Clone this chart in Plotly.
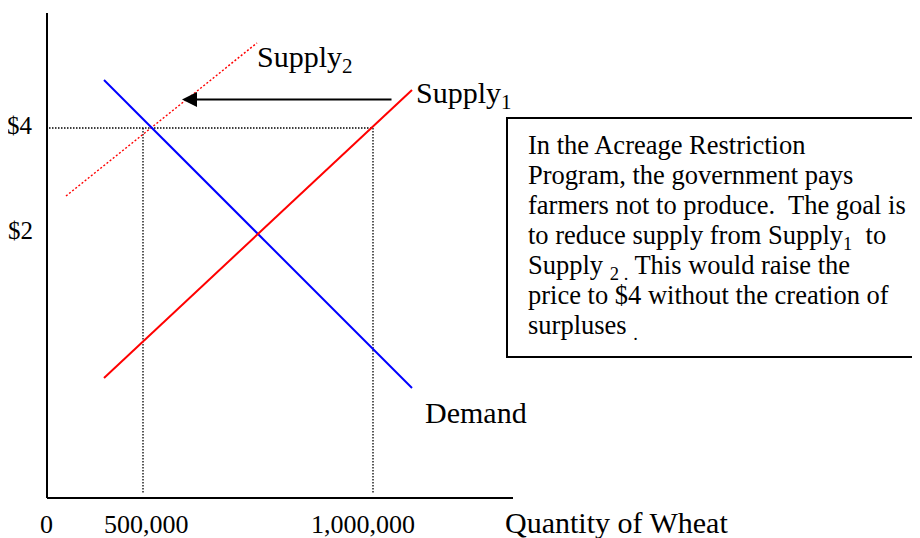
import plotly.graph_objects as go

# Schematic units (origin at the axes corner)
demand_q = [57, 365]
demand_p = [418, 110]
supply1_q = [57, 365]
supply1_p = [120, 408]
supply2_q = [19, 210]
supply2_p = [302, 455]

price_levels = [370, 267]
price_labels = ["$4", "$2"]
qty_levels = [96, 326]
qty_labels = ["500,000", "1,000,000"]

x_axis_end = 466
y_axis_end = 485

box_lines = [
    "In the Acreage Restriction",
    "Program, the government pays",
    "farmers not to produce.&nbsp; The goal is",
    "to reduce supply from Supply<sub>1</sub>&nbsp; to",
    "Supply <sub>2 .</sub> This would raise the",
    "price to $4 without the creation of",
    "surpluses <sub>.</sub>",
]

FONT = "Liberation Serif, Times New Roman, serif"
ASC = 0.891


def top_y(baseline, fs):
    return baseline + ASC * fs + 2


fig = go.Figure()

# axes
fig.add_trace(go.Scatter(x=[0, 0], y=[0, y_axis_end], mode="lines",
                         line=dict(color="black", width=2), hoverinfo="skip"))
fig.add_trace(go.Scatter(x=[0, x_axis_end], y=[0, 0], mode="lines",
                         line=dict(color="black", width=2), hoverinfo="skip"))

# reference dotted lines
fig.add_trace(go.Scatter(x=[2, qty_levels[1]], y=[price_levels[0], price_levels[0]],
                         mode="lines", line=dict(color="black", width=1.3, dash="1.5px,1.5px"),
                         hoverinfo="skip"))
for q in qty_levels:
    fig.add_trace(go.Scatter(x=[q, q], y=[price_levels[0], 5], mode="lines",
                             line=dict(color="black", width=1.3, dash="1.5px,1.5px"),
                             hoverinfo="skip"))

# curves
fig.add_trace(go.Scatter(x=supply2_q, y=supply2_p, mode="lines",
                         line=dict(color="red", width=1.5, dash="2px,2px"), hoverinfo="skip"))
fig.add_trace(go.Scatter(x=demand_q, y=demand_p, mode="lines",
                         line=dict(color="blue", width=2), hoverinfo="skip"))
fig.add_trace(go.Scatter(x=supply1_q, y=supply1_p, mode="lines",
                         line=dict(color="red", width=2), hoverinfo="skip"))

ann = []
# shift arrow
ann.append(dict(x=135, y=398.5, ax=346, ay=398.5, xref="x", yref="y", axref="x", ayref="y",
                text="", showarrow=True, arrowhead=2, arrowsize=1.5, arrowwidth=2,
                arrowcolor="black", standoff=0))

big = 30
ann.append(dict(x=210 - 2, y=top_y(431, big), text="Supply<sub>2</sub>", xanchor="left", yanchor="top"))
ann.append(dict(x=369 - 2, y=top_y(395, big), text="Supply<sub>1</sub>", xanchor="left", yanchor="top"))
ann.append(dict(x=378 - 2, y=top_y(75, big), text="Demand", xanchor="left", yanchor="top"))
ann.append(dict(x=458 - 2, y=top_y(-35, big), text="Quantity of Wheat", xanchor="left", yanchor="top"))
for a in ann[1:]:
    a.update(xref="x", yref="y", showarrow=False, font=dict(family=FONT, size=big, color="black"))

tick = 26
ann.append(dict(x=-1, y=top_y(-35, tick), text="0", xanchor="center", yanchor="top",
                xref="x", yref="y", showarrow=False, font=dict(family=FONT, size=tick, color="black")))
for q, lab, dx in zip(qty_levels, qty_labels, [3.5, -10]):
    ann.append(dict(x=q + dx, y=top_y(-35, tick), text=lab, xanchor="center", yanchor="top",
                    xref="x", yref="y", showarrow=False, font=dict(family=FONT, size=tick, color="black")))
for p, lab, dy in zip(price_levels, price_labels, [-6, -8]):
    ann.append(dict(x=-14 + 2, y=top_y(p + dy, 25), text=lab, xanchor="right", yanchor="top",
                    xref="x", yref="y", showarrow=False, font=dict(family=FONT, size=25, color="black")))

box_fs = 26.5
for i, line in enumerate(box_lines):
    ann.append(dict(x=481 - 2, y=top_y(344 - 30 * i, box_fs), text=line, xanchor="left", yanchor="top",
                    xref="x", yref="y", showarrow=False, font=dict(family=FONT, size=box_fs, color="black")))

# the page body has an 8px margin, so the ranges are offset to keep the
# axes corner at the reference position
fig.update_layout(
    width=920, height=538,
    margin=dict(l=0, r=0, t=0, b=0),
    paper_bgcolor="white", plot_bgcolor="white",
    showlegend=False,
    xaxis=dict(range=[-39, 881], visible=False, fixedrange=True),
    yaxis=dict(range=[-48, 490], visible=False, fixedrange=True),
    annotations=ann,
    shapes=[dict(type="rect", xref="x", yref="y", x0=460, x1=871, y0=141, y1=380,
                 line=dict(color="black", width=2), fillcolor="rgba(0,0,0,0)")],
)

fig.write_html("out.html")
